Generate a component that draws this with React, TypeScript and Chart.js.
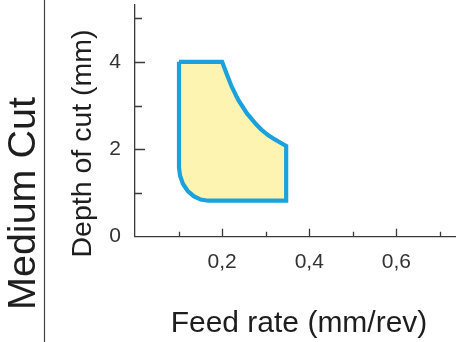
import React, { useEffect, useRef } from "react";
import { Chart, registerables } from "chart.js";

Chart.register(...registerables);

// Operating window (feed rate mm/rev, depth of cut mm), traced clockwise
const feedRate = [
  0.101, 0.2, 0.2105, 0.222, 0.237, 0.257, 0.278, 0.29, 0.306, 0.321, 0.333, 0.347,
  0.347, 0.168, 0.1508, 0.1346, 0.1207, 0.1099, 0.1033, 0.101, 0.101,
];
const depthOfCut = [
  4.0, 4.0, 3.72, 3.43, 3.13, 2.82, 2.57, 2.45, 2.32, 2.225, 2.155, 2.075,
  0.823, 0.823, 0.85, 0.928, 1.051, 1.211, 1.399, 1.58, 4.0,
];

const xTickValues = [0.2, 0.4, 0.6];
const xTickLabels = ["0,2", "0,4", "0,6"];
const yTickValues = [0, 2, 4];
const yTickLabels = ["0", "2", "4"];

const rowTitle = "Medium Cut";
const xTitle = "Feed rate (mm/rev)";
const yTitle = "Depth of cut (mm)";

const FONT = "'Liberation Sans', Arial, Helvetica, sans-serif";
const AXIS = "#3a3a3a";
const TEXT = "#1e1e1e";

const isMajor = (list: number[], v: number) => list.some((t) => Math.abs(t - v) < 1e-6);

const inwardTicksPlugin = {
  id: "inwardTicks",
  afterDraw(chart: any) {
    const ctx = chart.ctx;
    const xs = chart.scales.x;
    const ys = chart.scales.y;
    const area = chart.chartArea;
    ctx.save();
    ctx.strokeStyle = AXIS;
    ctx.lineWidth = 1.3;
    ctx.beginPath();
    for (const t of xs.ticks) {
      if (t.value < 1e-6) continue;
      const px = Math.round(xs.getPixelForValue(t.value)) + 0.5;
      const len = isMajor(xTickValues, t.value) ? 8 : 5;
      ctx.moveTo(px, area.bottom);
      ctx.lineTo(px, area.bottom - len);
    }
    for (const t of ys.ticks) {
      if (t.value < 1e-6) continue;
      const py = Math.round(ys.getPixelForValue(t.value)) + 0.5;
      const len = isMajor(yTickValues, t.value) ? 10 : 7;
      ctx.moveTo(area.left, py);
      ctx.lineTo(area.left + len, py);
    }
    ctx.stroke();
    ctx.restore();
  },
};

const titlesPlugin = {
  id: "titlesPlugin",
  afterDraw(chart: any) {
    const ctx = chart.ctx;
    ctx.save();
    // separator line
    ctx.strokeStyle = "#444";
    ctx.lineWidth = 1.2;
    ctx.beginPath();
    ctx.moveTo(44.5, 0);
    ctx.lineTo(44.5, 342);
    ctx.stroke();

    ctx.fillStyle = TEXT;
    ctx.textAlign = "center";
    ctx.textBaseline = "alphabetic";

    // row title
    ctx.save();
    ctx.translate(35, 203.5);
    ctx.rotate(-Math.PI / 2);
    ctx.font = `39.5px ${FONT}`;
    ctx.fillText(rowTitle, 0, 0);
    ctx.restore();

    // y title
    ctx.save();
    ctx.translate(90.5, 143.5);
    ctx.rotate(-Math.PI / 2);
    ctx.font = `28.5px ${FONT}`;
    ctx.fillText(yTitle, 0, 0);
    ctx.restore();

    // x title
    ctx.font = `30px ${FONT}`;
    ctx.fillText(xTitle, 299, 331.5);
    ctx.restore();
  },
};

const noEdgePadding = (s: any) => {
  s.paddingTop = 0;
  s.paddingBottom = 0;
  s.paddingLeft = 0;
  s.paddingRight = 0;
};

export default function App() {
  const ref = useRef<HTMLCanvasElement | null>(null);

  useEffect(() => {
    if (!ref.current) return;
    const points = feedRate.map((x, i) => ({ x, y: depthOfCut[i] }));
    const chart = new Chart(ref.current, {
      type: "scatter",
      data: {
        datasets: [
          {
            data: points,
            showLine: true,
            fill: "shape",
            backgroundColor: "#fdf4b2",
            borderColor: "#1aa1de",
            borderWidth: 4.2,
            borderJoinStyle: "miter",
            tension: 0,
            pointRadius: 0,
          } as any,
        ],
      },
      options: {
        responsive: false,
        animation: false,
        devicePixelRatio: 1,
        layout: { padding: { top: 5, right: 13, left: 0, bottom: 0 } },
        plugins: {
          legend: { display: false },
          tooltip: { enabled: false },
          title: { display: false },
        },
        scales: {
          x: {
            type: "linear",
            min: 0,
            max: 0.7345,
            afterFit: (s: any) => {
              s.height = 342 - 236.7;
              noEdgePadding(s);
            },
            border: { display: true, color: AXIS, width: 1.3 },
            grid: { display: false },
            ticks: {
              stepSize: 0.1,
              includeBounds: false,
              autoSkip: false,
              maxRotation: 0,
              padding: 5,
              color: "#333",
              font: { family: FONT, size: 21 },
              callback: (v: any) => {
                const i = xTickValues.findIndex((t) => Math.abs(t - Number(v)) < 1e-6);
                return i >= 0 ? xTickLabels[i] : "";
              },
            },
          },
          y: {
            type: "linear",
            min: 0,
            max: 5.3,
            afterFit: (s: any) => {
              s.width = 135;
              noEdgePadding(s);
            },
            border: { display: true, color: AXIS, width: 1.3 },
            grid: { display: false },
            ticks: {
              stepSize: 1,
              includeBounds: false,
              autoSkip: false,
              padding: 6,
              color: "#333",
              font: { family: FONT, size: 21 },
              callback: (v: any) => {
                const i = yTickValues.findIndex((t) => Math.abs(t - Number(v)) < 1e-6);
                return i >= 0 ? yTickLabels[i] : "";
              },
            },
          },
        },
      },
      plugins: [inwardTicksPlugin, titlesPlugin],
    });
    return () => chart.destroy();
  }, []);

  return (
    <div style={{ position: "absolute", left: 0, top: 0, width: 468, height: 342, background: "#fff" }}>
      <canvas ref={ref} width={468} height={342} />
    </div>
  );
}
